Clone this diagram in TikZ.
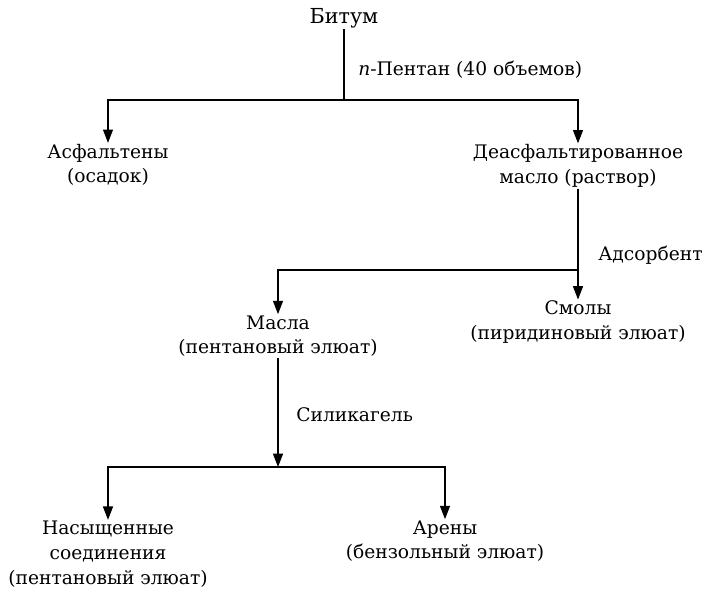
\documentclass[tikz,border=0pt]{standalone}
\usepackage{fontspec}
\setmainfont{DejaVu Serif}
\usetikzlibrary{arrows.meta}

\begin{document}
\begin{tikzpicture}[x=0.75pt,y=0.75pt,yscale=-1,xscale=1,
  every node/.style={inner sep=0.75pt,font=\fontsize{14}{18.5}\selectfont},
  prod/.style={align=center},
  line/.style={line width=0.9pt},
  arr/.style={line width=0.9pt,-{Triangle[width=7.5pt,length=10pt]}}]
\useasboundingbox (0,0) rectangle (709,602);

% Text Node
\node (bitum) at (344,18) [font=\fontsize{15.5}{18}\selectfont] {Битум};
\coordinate (j1) at (344,100);
% Text Node
\node (pentan) at (357,70) [anchor=west] {{\itshape n}-Пентан (40 объемов)};
% Text Node
\node (asph) at (108,165) [prod] {Асфальтены\\(осадок)};
% Text Node
\node (deasph) at (578,166) [prod] {Деасфальтированное\\масло (раствор)};

%Straight Lines
\draw [line] (bitum) -- (j1);
\draw [arr] (j1) -| (asph);
\draw [arr] (j1) -| (deasph);

\coordinate (j2) at (578,270);
% Text Node
\node (adsorb) at (597,255) [anchor=west] {Адсорбент};
% Text Node
\node (smoly) at (578,322) [prod] {Смолы\\(пиридиновый элюат)};
% Text Node
\node (masla) at (278,336) [prod] {Масла\\(пентановый элюат)};

%Straight Lines
\draw [arr] (deasph) -- (smoly);
\draw [arr] (j2) -| (masla);

\coordinate (j3) at (278,467);
% Text Node
\node (silica) at (295,415) [anchor=west] {Силикагель};
% Text Node
\node (nasyshch) at (108,554) [prod] {Насыщенные\\соединения\\(пентановый элюат)};
% Text Node
\node (areny) at (445,541) [prod] {Арены\\(бензольный элюат)};

%Straight Lines
\draw [arr] (masla) -- (j3);
\draw [arr] (j3) -| (nasyshch);
\draw [arr] (j3) -| (areny);

\end{tikzpicture}
\end{document}
